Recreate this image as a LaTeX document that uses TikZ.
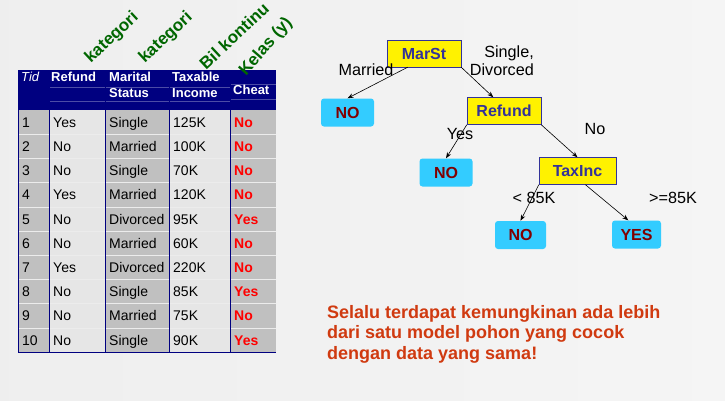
\documentclass[tikz,border=0pt]{standalone}
\usepackage{fontspec}
\setmainfont{Liberation Sans}
\usetikzlibrary{arrows.meta,positioning}
\definecolor{hdrblue}{HTML}{000080}
\definecolor{colgray}{HTML}{C0C0C0}
\definecolor{collight}{HTML}{E6E6E6}
\definecolor{catgreen}{HTML}{006600}
\definecolor{cheatred}{HTML}{FF0000}
\definecolor{leafcyan}{HTML}{33CCFF}
\definecolor{leafred}{HTML}{800000}
\definecolor{splitblue}{HTML}{333399}
\definecolor{noteorange}{HTML}{D03A10}

\begin{document}
\begin{tikzpicture}[x=1pt,y=-1pt,
  hdr/.style={text=white,font=\fontsize{13}{15.5}\selectfont\bfseries,anchor=north west,align=left,inner sep=0pt},
  cell/.style={anchor=base west,inner sep=0pt,font=\fontsize{14}{16}\selectfont},
  cls/.style={cell,text=cheatred,font=\fontsize{14}{16}\selectfont\bfseries},
  attr/.style={text=catgreen,font=\fontsize{17}{19}\selectfont\bfseries,rotate=43,inner sep=0pt},
  split/.style={draw=splitblue,fill=yellow,text=splitblue,font=\fontsize{16}{18}\selectfont\bfseries,minimum width=74pt,minimum height=27pt,inner sep=0pt},
  leaf/.style={fill=leafcyan,rounded corners=3pt,text=leafred,font=\fontsize{16}{18}\selectfont\bfseries,minimum width=53pt,minimum height=28pt,inner sep=0pt},
  lbl/.style={font=\fontsize{16.2}{18}\selectfont,inner sep=0pt,align=right},
  arr/.style={-{Stealth[length=6pt,width=4.5pt]},black,line width=0.6pt}]
% ---- background ----
\shade[left color=gray!13,middle color=white,right color=gray!8] (0,0) rectangle (725,400);
\useasboundingbox (0,0) rectangle (725,400);
% ---- table ----
\fill[hdrblue] (18,70) rectangle (276,110);
\fill[colgray]  (18,110) rectangle (49,352);
\fill[collight] (49,110) rectangle (105,352);
\fill[colgray]  (105,110) rectangle (169,352);
\fill[collight] (169,110) rectangle (230,352);
\fill[colgray]  (230,110) rectangle (276,352);
\draw[hdrblue!70!white,line width=0.4pt] (49,87) -- (230,87) (49,101) -- (230,101)
  (230,84) -- (276,84) (230,99) -- (276,99);
\foreach \k in {1,...,9}
  \draw[white!85!gray,line width=0.6pt] (18,110+24.2*\k) -- (276,110+24.2*\k);
\foreach \cx in {49,105,169,230}
  \draw[hdrblue,line width=1pt] (\cx,70) -- (\cx,352);
\draw[hdrblue,line width=1pt] (18,70) -- (18,352) -- (276,352);
\node[hdr,font=\fontsize{13}{15.5}\selectfont\itshape] (hTid) at (21,72) {Tid};
\node[hdr] (hRefund) at (51,72) {Refund};
\node[hdr] (hMarital) at (109,72) {Marital\\Status};
\node[hdr] (hIncome) at (172,72) {Taxable\\Income};
\node[hdr,anchor=west] (hCheat) at (233,90) {Cheat};
\foreach \t/\r/\m/\i/\c [count=\k] in {1/Yes/Single/125K/No, 2/No/Married/100K/No,
    3/No/Single/70K/No, 4/Yes/Married/120K/No, 5/No/Divorced/95K/Yes,
    6/No/Married/60K/No, 7/Yes/Divorced/220K/No, 8/No/Single/85K/Yes,
    9/No/Married/75K/No, 10/No/Single/90K/Yes} {
  \node[cell] (tid\k) at (22,110+24.2*\k-7) {\t};
  \node[cell] (ref\k) at (53,110+24.2*\k-7) {\r};
  \node[cell] (mar\k) at (109,110+24.2*\k-7) {\m};
  \node[cell] (inc\k) at (173,110+24.2*\k-7) {\i};
  \node[cls] (cht\k) at (234,110+24.2*\k-7) {\c};
}
% ---- attribute types ----
\node[attr] (typeA) at (112,38) {kategori};
\node[attr] (typeB) at (166,38) {kategori};
\node[attr] (typeC) at (234,36) {Bil kontinu};
\node[attr,rotate=6] (typeD) at (266,47) {Kelas (y)};
% ---- decision tree ----
\node[split] (marst) at (424,53.5) {MarSt};
\node[split] (refund) at (504,111) {Refund};
\node[split,minimum width=77pt] (taxinc) at (577.5,171) {TaxInc};
\node[leaf] (noA) at (347.5,112.5) {NO};
\node[leaf] (noB) at (446,172.5) {NO};
\node[leaf,minimum width=51pt] (noC) at (520.5,235) {NO};
\node[leaf,minimum width=49pt] (yes) at (636.5,234.5) {YES};
\draw[arr] (marst.220) -- (noA.north);
\draw[arr] (marst.south east) -- (refund.128);
\draw[arr] (refund.south west) -- (noB.north);
\draw[arr] (refund.south east) -- (taxinc.north);
\draw[arr] (taxinc.south west) -- (noC.north);
\draw[arr] (taxinc.300) -- (yes.120);
\node[lbl] (lMarried) at (366,70) {Married};
\node[lbl,anchor=east] (lSingle) at (534,61) {Single,\\Divorced};
\node[lbl] (lYes) at (460,134) {Yes};
\node[lbl] (lNo) at (595,129) {No};
\node[lbl] (lLess) at (534,198) {< 85K};
\node[lbl] (lMore) at (673,198) {>=85K};
% ---- remark ----
\node[anchor=north west,align=left,inner sep=0pt,text=noteorange,
  font=\fontsize{18}{20.5}\selectfont\bfseries] (note) at (327,305)
  {Selalu terdapat kemungkinan ada lebih\\dari satu model pohon yang cocok\\dengan data yang sama!};
\end{tikzpicture}
\end{document}
